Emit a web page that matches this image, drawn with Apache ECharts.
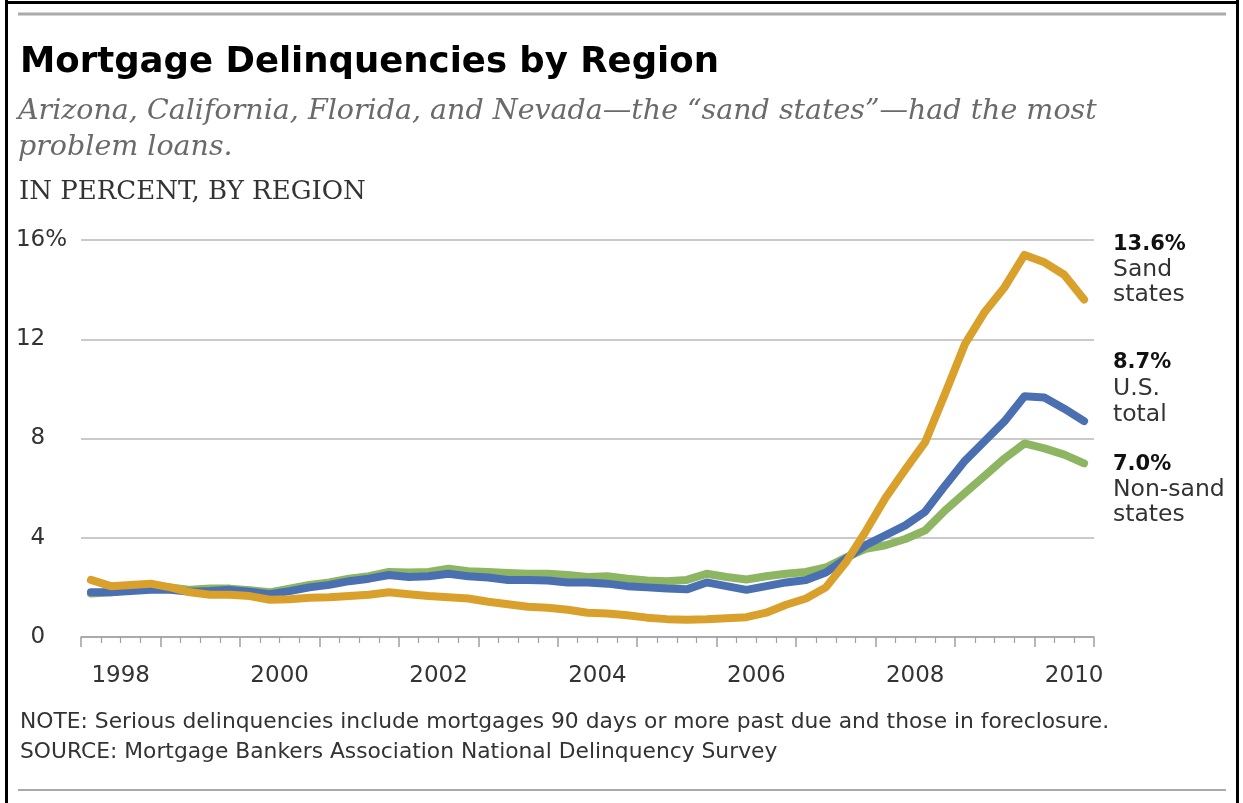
<!DOCTYPE html>
<html>
<head>
<meta charset="utf-8">
<script src="https://cdn.jsdelivr.net/npm/echarts@6/dist/echarts.min.js"></script>
<style>
html,body{margin:0;padding:0;background:#fff;}
#c{width:1243px;height:803px;}
</style>
</head>
<body>
<div id="c"></div>
<script>
// ---- data (quarterly, MBA National Delinquency Survey, serious delinquencies, %) ----
const quarters = [
  '1998 Q1','1998 Q2','1998 Q3','1998 Q4','1999 Q1','1999 Q2','1999 Q3','1999 Q4',
  '2000 Q1','2000 Q2','2000 Q3','2000 Q4','2001 Q1','2001 Q2','2001 Q3','2001 Q4',
  '2002 Q1','2002 Q2','2002 Q3','2002 Q4','2003 Q1','2003 Q2','2003 Q3','2003 Q4',
  '2004 Q1','2004 Q2','2004 Q3','2004 Q4','2005 Q1','2005 Q2','2005 Q3','2005 Q4',
  '2006 Q1','2006 Q2','2006 Q3','2006 Q4','2007 Q1','2007 Q2','2007 Q3','2007 Q4',
  '2008 Q1','2008 Q2','2008 Q3','2008 Q4','2009 Q1','2009 Q2','2009 Q3','2009 Q4',
  '2010 Q1','2010 Q2','2010 Q3'
];
const sandStates = [
  2.3, 2.05, 2.1, 2.15, 2.0, 1.8, 1.7, 1.7,
  1.65, 1.5, 1.52, 1.58, 1.6, 1.65, 1.7, 1.8,
  1.72, 1.65, 1.6, 1.55, 1.42, 1.32, 1.22, 1.18,
  1.1, 0.98, 0.95, 0.88, 0.78, 0.72, 0.7, 0.72,
  0.76, 0.8, 0.98, 1.3, 1.55, 2.0, 3.0, 4.25,
  5.6, 6.75, 7.85, 9.8, 11.8, 13.1, 14.1, 15.4,
  15.1, 14.6, 13.6
];
const usTotal = [
  1.8, 1.8, 1.85, 1.9, 1.9, 1.82, 1.85, 1.9,
  1.82, 1.72, 1.85, 2.0, 2.1, 2.25, 2.35, 2.5,
  2.42, 2.45, 2.55, 2.45, 2.4, 2.3, 2.3, 2.28,
  2.2, 2.2, 2.15, 2.05, 2.0, 1.95, 1.92, 2.2,
  2.05, 1.9, 2.05, 2.2, 2.3, 2.6, 3.15, 3.7,
  4.1, 4.5, 5.05, 6.1, 7.1, 7.9, 8.7, 9.7,
  9.65, 9.2, 8.7
];
const nonSandStates = [
  1.75, 1.8, 1.9, 2.0, 2.0, 1.9, 1.95, 1.95,
  1.88, 1.8, 1.95, 2.1, 2.2, 2.35, 2.45, 2.62,
  2.6, 2.62, 2.75, 2.65, 2.62, 2.58, 2.55, 2.55,
  2.5, 2.42, 2.45, 2.35, 2.28, 2.25, 2.3, 2.55,
  2.42, 2.32, 2.45, 2.55, 2.62, 2.8, 3.2, 3.55,
  3.7, 3.95, 4.3, 5.1, 5.8, 6.5, 7.2, 7.8,
  7.6, 7.35, 7.0
];
const yearLabels = [1998, 2000, 2002, 2004, 2006, 2008, 2010];
const yTicks = [0, 4, 8, 12, 16];
const seriesNames = ['Sand states', 'U.S. total', 'Non-sand states'];

// quarter label -> decimal year at the middle of the quarter
function qPos(q) {
  const parts = q.split(' Q');
  return Number(parts[0]) + (Number(parts[1]) - 1) / 4 + 0.125;
}
function toPairs(values) { return quarters.map((q, i) => [qPos(q), values[i]]); }
function last(a) { return a[a.length - 1].toFixed(1) + '%'; }

const SANS = "'DejaVu Sans', Verdana, sans-serif";
const TXT = '#333';

const chart = echarts.init(document.getElementById('c'), null, {renderer: 'canvas'});

function lineSeries(name, values, color, z) {
  return {
    type: 'line', name: name, data: toPairs(values), xAxisIndex: 0, yAxisIndex: 0,
    symbol: 'none', smooth: false, z: z,
    lineStyle: {color: color, width: 8, cap: 'round', join: 'round'},
    emphasis: {disabled: true}
  };
}

const option = {
  animation: false,
  backgroundColor: '#fff',
  grid: {left: 81, right: 149, top: 240, bottom: 166, containLabel: false},
  xAxis: [
    {
      type: 'value', min: 1998, max: 2010.75, interval: 1, position: 'bottom',
      axisLine: {show: true, lineStyle: {color: '#a0a0a0', width: 1.5}},
      axisTick: {show: true, length: 10, lineStyle: {color: '#a0a0a0', width: 1.5}},
      minorTick: {show: true, splitNumber: 4, length: 6, lineStyle: {color: '#a0a0a0', width: 1.2}},
      axisLabel: {show: false},
      splitLine: {show: false}
    },
    {
      type: 'value', min: 1997.5, max: 2010.25, interval: 0.5, position: 'bottom',
      axisLine: {show: false}, axisTick: {show: false}, splitLine: {show: false},
      axisLabel: {
        show: true, margin: 28, fontFamily: SANS, fontSize: 23, color: TXT,
        formatter: function (v) {
          const r = Math.round(v);
          return (Math.abs(v - r) < 1e-6 && yearLabels.indexOf(r) >= 0) ? String(r) : '';
        }
      }
    }
  ],
  yAxis: {
    type: 'value', min: yTicks[0], max: yTicks[yTicks.length - 1], interval: yTicks[1] - yTicks[0],
    axisLine: {show: false}, axisTick: {show: false},
    splitLine: {show: true, lineStyle: {color: '#b8b8b8', width: 1.5}},
    axisLabel: {
      margin: 14, fontFamily: SANS, fontSize: 23, color: TXT, align: 'right',
      formatter: function (v) {
        return v === yTicks[yTicks.length - 1] ? v + '%' : v + '{h|%}';
      },
      rich: {h: {color: 'rgba(0,0,0,0)', fontFamily: SANS, fontSize: 23}}
    }
  },
  series: [
    lineSeries(seriesNames[2], nonSandStates, '#8eb562', 2),
    lineSeries(seriesNames[1], usTotal, '#4b70b2', 3),
    lineSeries(seriesNames[0], sandStates, '#d9a02c', 4)
  ],
  graphic: [
    // frame
    {type: 'line', shape: {x1: 6.5, y1: 0, x2: 6.5, y2: 803}, style: {stroke: '#000', lineWidth: 3}, silent: true},
    {type: 'line', shape: {x1: 5, y1: 2.5, x2: 1239, y2: 2.5}, style: {stroke: '#000', lineWidth: 3}, silent: true},
    {type: 'line', shape: {x1: 1237.5, y1: 0, x2: 1237.5, y2: 803}, style: {stroke: '#000', lineWidth: 3}, silent: true},
    // rules
    {type: 'line', shape: {x1: 18, y1: 14, x2: 1226, y2: 14}, style: {stroke: '#aaa', lineWidth: 3}, silent: true},
    {type: 'line', shape: {x1: 18, y1: 790, x2: 1226, y2: 790}, style: {stroke: '#aaa', lineWidth: 2}, silent: true},
    // title block
    {type: 'text', x: 20, y: 63, silent: true,
      style: {text: 'Mortgage Delinquencies by Region', font: "bold 35.5px 'DejaVu Sans', sans-serif", fill: '#000', align: 'left', verticalAlign: 'middle'}},
    {type: 'text', x: 18, y: 112, silent: true,
      style: {text: 'Arizona, California, Florida, and Nevada\u2014the \u201csand states\u201d\u2014had the most', font: "italic 28.5px 'DejaVu Serif', serif", fill: '#6a6a6a', align: 'left', verticalAlign: 'middle'}},
    {type: 'text', x: 18, y: 148, silent: true,
      style: {text: 'problem loans.', font: "italic 28.5px 'DejaVu Serif', serif", fill: '#6a6a6a', align: 'left', verticalAlign: 'middle'}},
    {type: 'text', x: 19, y: 192, silent: true,
      style: {text: 'IN PERCENT, BY REGION', font: "26px 'DejaVu Serif', serif", fill: '#333', align: 'left', verticalAlign: 'middle'}},
    // end annotations
    {type: 'text', x: 1113, y: 232, silent: true,
      style: {text: '{b|' + last(sandStates) + '}\n{r|Sand}\n{r|states}', align: 'left', verticalAlign: 'top',
        rich: {b: {font: "bold 21px 'DejaVu Sans', sans-serif", fill: '#111', lineHeight: 25},
               r: {font: "23.5px 'DejaVu Sans', sans-serif", fill: TXT, lineHeight: 25}}}},
    {type: 'text', x: 1113, y: 350, silent: true,
      style: {text: '{b|' + last(usTotal) + '}\n{r|U.S.}\n{r|total}', align: 'left', verticalAlign: 'top',
        rich: {b: {font: "bold 21px 'DejaVu Sans', sans-serif", fill: '#111', lineHeight: 26},
               r: {font: "23.5px 'DejaVu Sans', sans-serif", fill: TXT, lineHeight: 26}}}},
    {type: 'text', x: 1113, y: 452, silent: true,
      style: {text: '{b|' + last(nonSandStates) + '}\n{r|Non-sand}\n{r|states}', align: 'left', verticalAlign: 'top',
        rich: {b: {font: "bold 21px 'DejaVu Sans', sans-serif", fill: '#111', lineHeight: 25},
               r: {font: "23.5px 'DejaVu Sans', sans-serif", fill: TXT, lineHeight: 25}}}},
    // notes
    {type: 'text', x: 20, y: 722, silent: true,
      style: {text: 'NOTE: Serious delinquencies include mortgages 90 days or more past due and those in foreclosure.', font: "21.8px 'DejaVu Sans', sans-serif", fill: TXT, align: 'left', verticalAlign: 'middle'}},
    {type: 'text', x: 20, y: 752, silent: true,
      style: {text: 'SOURCE: Mortgage Bankers Association National Delinquency Survey', font: "21.8px 'DejaVu Sans', sans-serif", fill: TXT, align: 'left', verticalAlign: 'middle'}}
  ]
};
chart.setOption(option);
</script>
</body>
</html>
